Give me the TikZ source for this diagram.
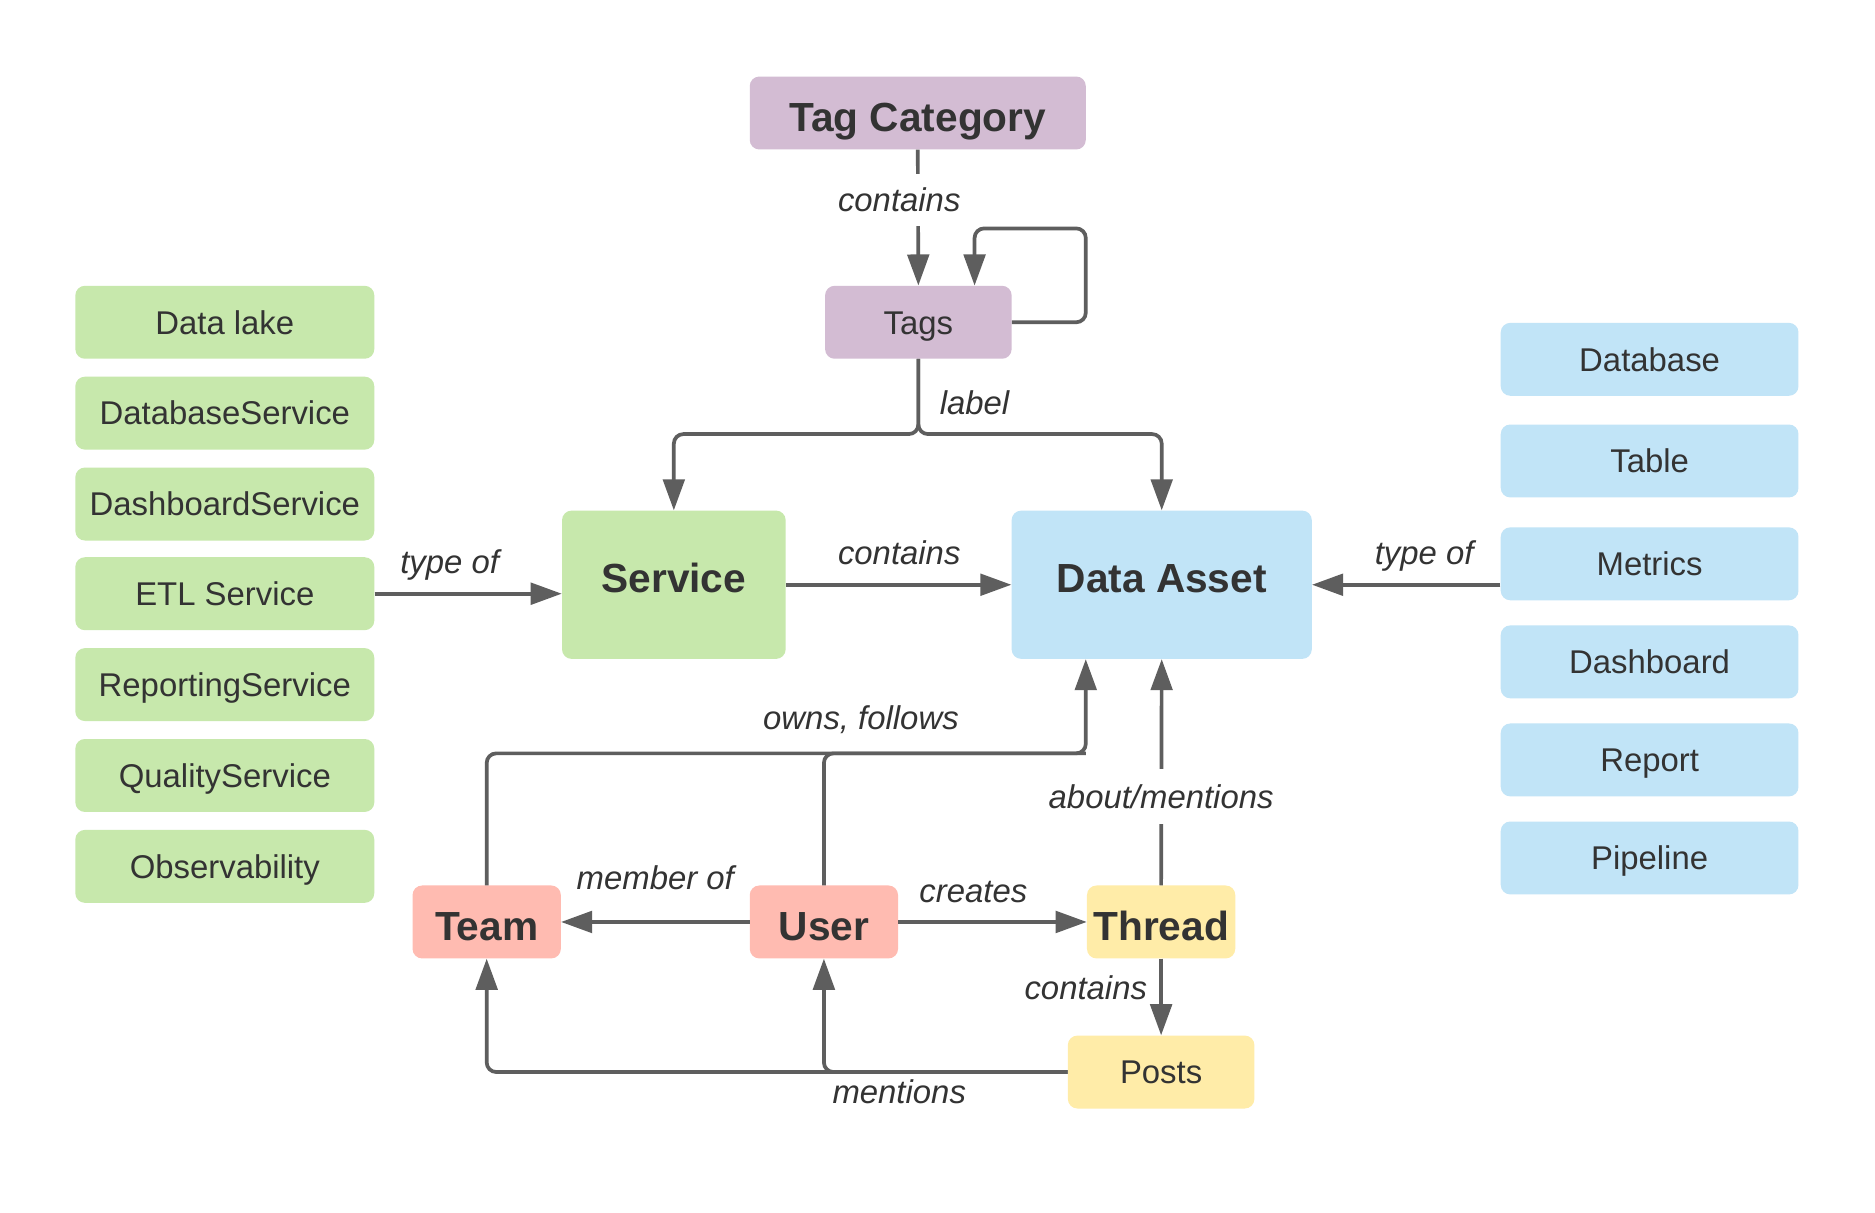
\documentclass[tikz,border=0pt]{standalone}
\usepackage{fontspec}
\setmainfont{Liberation Sans}
\usetikzlibrary{arrows.meta}
\definecolor{purp}{HTML}{D3BCD3}
\definecolor{grn}{HTML}{C7E8AC}
\definecolor{blu}{HTML}{C1E4F7}
\definecolor{pnk}{HTML}{FFBBB1}
\definecolor{ylw}{HTML}{FFECA8}
\definecolor{ln}{HTML}{5E5E5E}
\definecolor{txt}{HTML}{333333}
\begin{document}
\begin{tikzpicture}[x=1pt,y=-1pt,
  box/.style={rectangle, rounded corners=8pt, inner sep=0pt, text=txt, font=\fontsize{27.5}{33}\selectfont, text height=19.7pt, text depth=0pt},
  bigbox/.style={box, font=\fontsize{34}{40}\selectfont\bfseries, text height=24.4pt},
  gbox/.style={box, fill=grn, minimum width=250pt, minimum height=61pt},
  bbox/.style={box, fill=blu, minimum width=249pt, minimum height=61pt},
  conn/.style={draw=ln, line width=3.1pt},
  arr/.style={conn, -{Triangle[length=26pt,width=18pt]}},
  lbl/.style={text=txt, font=\fontsize{27.5}{33}\selectfont\itshape, inner sep=0pt, text height=19.7pt, text depth=0pt},
]
\fill[white] (0,0) rectangle (1568,1014);
\useasboundingbox (0,0) rectangle (1568,1014);

% main nodes
\node[bigbox, fill=purp, minimum width=281pt, minimum height=61pt] (tagcat) at (767.5,94.5) {\raisebox{-3pt}{Tag Category}};
\node[box, fill=purp, minimum width=156pt, minimum height=61pt] (tags) at (768,269.5) {Tags};
\node[bigbox, fill=grn, minimum width=187pt, minimum height=124pt] (service) at (563.5,489) {\raisebox{6pt}{Service}};
\node[bigbox, fill=blu, minimum width=251pt, minimum height=124pt] (asset) at (971.5,489) {\raisebox{6pt}{Data Asset}};
\node[bigbox, fill=pnk, minimum width=124pt, minimum height=61pt] (team) at (407,771) {\raisebox{-3.5pt}{Team}};
\node[bigbox, fill=pnk, minimum width=124pt, minimum height=61pt] (user) at (689,771) {\raisebox{-3.5pt}{User}};
\node[bigbox, fill=ylw, minimum width=124pt, minimum height=61pt] (thread) at (971,771) {\raisebox{-3.5pt}{Thread}};
\node[box, fill=ylw, minimum width=156pt, minimum height=61pt] (posts) at (971,896.5) {Posts};

% service types
\node[gbox] (datalake) at (188,269.5) {Data lake};
\node[gbox] (dbsvc) at (188,345.5) {DatabaseService};
\node[gbox] (dashsvc) at (188,421.5) {DashboardService};
\node[gbox] (etl) at (188,496.5) {ETL Service};
\node[gbox] (repsvc) at (188,572.5) {ReportingService};
\node[gbox] (qualsvc) at (188,648.5) {QualityService};
\node[gbox] (obs) at (188,724.5) {Observability};

% asset types
\node[bbox] (database) at (1379.5,300.5) {Database};
\node[bbox] (table) at (1379.5,385.5) {Table};
\node[bbox] (metrics) at (1379.5,471.5) {Metrics};
\node[bbox] (dashboard) at (1379.5,553.5) {Dashboard};
\node[bbox] (report) at (1379.5,635.5) {Report};
\node[bbox] (pipeline) at (1379.5,717.5) {Pipeline};

% waypoints
\coordinate (loopc) at (908,191);
\coordinate (tsplit) at (768,363);
\coordinate (ofturn) at (908,630);

% connectors
\draw[arr] (tagcat.south) -- (tags.north);
\draw[arr, rounded corners=8pt] (tags.east) -| (loopc) -| ([xshift=47pt]tags.north);
\draw[arr, rounded corners=8pt] (tags.south) -- (tsplit) -| (service.north);
\draw[arr, rounded corners=8pt] (tags.south) -- (tsplit) -| (asset.north);
\draw[arr] (service.east) -- (asset.west);
\draw[arr] (etl.east) -- (service.west |- etl.east);
\draw[arr] (metrics.west |- asset.east) -- (asset.east);
\draw[arr] (user.west) -- (team.east);
\draw[arr] (user.east) -- (thread.west);
\draw[arr] (thread.south) -- (posts.north);
\draw[arr] (thread.north) -- (asset.south);
\draw[arr, rounded corners=8pt] (team.north) |- (ofturn) -- ([xshift=-63.5pt]asset.south);
\draw[conn, rounded corners=8pt] (user.north) |- (ofturn);
\draw[arr, rounded corners=8pt] (posts.west) -| (user.south);
\draw[arr, rounded corners=8pt] (posts.west) -| (team.south);

% labels
\node[lbl, fill=white, inner ysep=12pt, inner xsep=2pt] (l1) at (752,167) {contains};
\node[lbl] (l2) at (815,337) {label};
\node[lbl] (l3) at (376,470) {type of};
\node[lbl] (l4) at (752,462) {contains};
\node[lbl] (l5) at (1191,462) {type of};
\node[lbl] (l6) at (720,600) {owns, follows};
\node[lbl, fill=white, inner ysep=13pt, inner xsep=2pt] (l7) at (971,666) {about/mentions};
\node[lbl] (l8) at (548,734) {member of};
\node[lbl] (l9) at (814,745) {creates};
\node[lbl] (l10) at (908,826) {contains};
\node[lbl] (l11) at (752,913) {mentions};
\end{tikzpicture}
\end{document}
